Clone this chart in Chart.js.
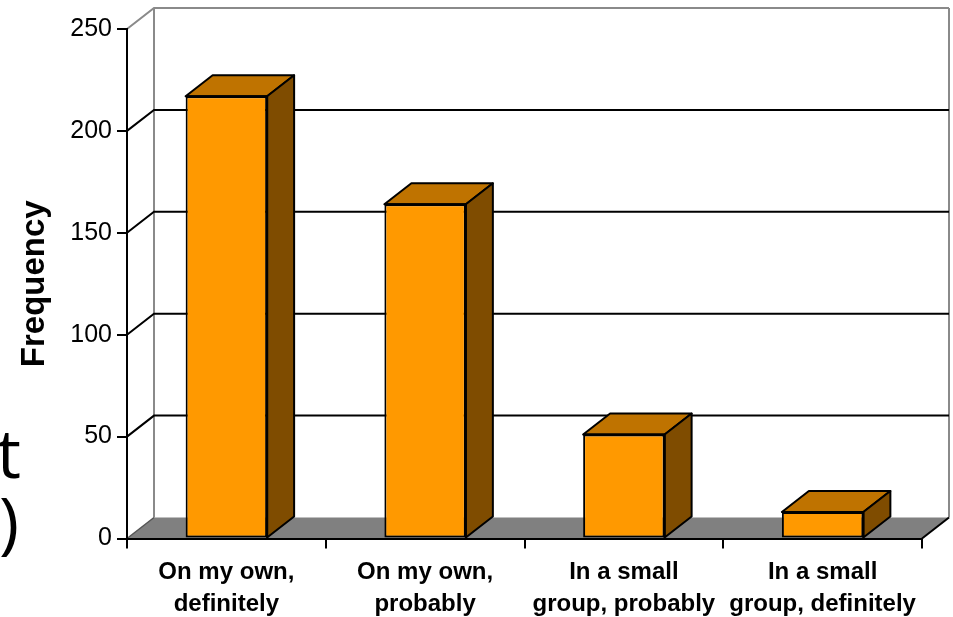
<!DOCTYPE html>
<html><head><meta charset="utf-8">
<script src="https://cdn.jsdelivr.net/npm/chart.js@4/dist/chart.umd.min.js"></script>
<style>html,body{margin:0;padding:0;background:#fff;overflow:hidden}</style>
</head><body>
<canvas id="c" width="953" height="617" style="display:block;width:953px;height:617px"></canvas>
<script>
const categories = [
  ['On my own,', 'definitely'],
  ['On my own,', 'probably'],
  ['In a small', 'group, probably'],
  ['In a small', 'group, definitely']
];
const frequencies = [217, 164, 51, 13];
const yTickValues = [0, 50, 100, 150, 200, 250];
const yTitle = 'Frequency';
const clippedSlideText = ['t', ')'];

const DX = 27, DY = -21;
const FRONT = '#FF9900', TOP = '#BF7300', SIDE = '#7F4C00';
const FONT = "'Liberation Sans', Arial, sans-serif";

function poly(ctx, pts, fill, stroke, lw) {
  ctx.beginPath();
  ctx.moveTo(pts[0][0], pts[0][1]);
  for (let i = 1; i < pts.length; i++) ctx.lineTo(pts[i][0], pts[i][1]);
  ctx.closePath();
  if (fill) { ctx.fillStyle = fill; ctx.fill(); }
  if (stroke) { ctx.strokeStyle = stroke; ctx.lineWidth = lw || 2; ctx.stroke(); }
}
function line(ctx, pts, color, lw) {
  ctx.beginPath();
  ctx.moveTo(pts[0][0], pts[0][1]);
  for (let i = 1; i < pts.length; i++) ctx.lineTo(pts[i][0], pts[i][1]);
  ctx.strokeStyle = color; ctx.lineWidth = lw || 2; ctx.stroke();
}

const walls = {
  id: 'walls',
  beforeDraw(chart) {
    const ctx = chart.ctx;
    const {left, right, bottom} = chart.chartArea;
    const ys = chart.scales.y;
    const maxV = yTickValues[yTickValues.length - 1];
    const topY = ys.getPixelForValue(maxV);
    ctx.save();
    poly(ctx, [[left, bottom], [right, bottom], [right + DX, bottom + DY], [left + DX, bottom + DY]], '#808080');
    line(ctx, [[left + DX, topY + DY], [left + DX, bottom + DY]], '#8a8a8a', 2);
    line(ctx, [[right + DX, topY + DY], [right + DX, bottom + DY]], '#8a8a8a', 2);
    yTickValues.forEach(v => {
      if (v === 0) return;
      const py = ys.getPixelForValue(v);
      const col = v === maxV ? '#8a8a8a' : '#000';
      line(ctx, [[left, py], [left + DX, py + DY], [right + DX, py + DY]], col, 2);
    });
    line(ctx, [[left, bottom], [left + DX, bottom + DY]], '#555', 1.5);
    line(ctx, [[right, bottom], [right + DX, bottom + DY]], '#000', 2);
    ctx.restore();
  },
  afterDatasetsDraw(chart) {
    const ctx = chart.ctx;
    const meta = chart.getDatasetMeta(0);
    ctx.save();
    ctx.lineJoin = 'round';
    meta.data.forEach(bar => {
      const {x, y, base, width} = bar.getProps(['x', 'y', 'base', 'width'], true);
      const l = x - width / 2, r = x + width / 2;
      poly(ctx, [[l, y], [l + DX, y + DY], [r + DX, y + DY], [r, y]], TOP, '#000', 2);
      poly(ctx, [[r, y], [r + DX, y + DY], [r + DX, base + DY], [r, base]], SIDE, '#000', 2);
      line(ctx, [[l, y], [r, y], [r, base]], '#000', 2);
    });
    ctx.restore();
  },
  afterDraw(chart) {
    const ctx = chart.ctx;
    ctx.save();
    ctx.fillStyle = '#000';
    ctx.textAlign = 'right';
    ctx.textBaseline = 'alphabetic';
    ctx.font = "68px 'Open Sans', sans-serif";
    ctx.fillText(clippedSlideText[0], 21, 478);
    ctx.fillText(clippedSlideText[1], 19, 546);
    ctx.restore();
  }
};

new Chart(document.getElementById('c'), {
  type: 'bar',
  data: {
    labels: categories,
    datasets: [{
      data: frequencies,
      backgroundColor: FRONT,
      borderColor: '#000',
      borderWidth: 2,
      borderSkipped: false,
      barPercentage: 0.41,
      categoryPercentage: 1
    }]
  },
  options: {
    responsive: false,
    devicePixelRatio: 1,
    animation: false,
    layout: {padding: {top: 29, right: 31, left: 0, bottom: 0}},
    plugins: {legend: {display: false}, tooltip: {enabled: false}},
    scales: {
      x: {
        grid: {display: true, drawOnChartArea: false, drawTicks: true, tickLength: 10, color: '#000', lineWidth: 2, offset: true},
        border: {display: true, color: '#000', width: 2},
        ticks: {
          color: '#000', autoSkip: false, maxRotation: 0, minRotation: 0, padding: 8,
          font: {family: FONT, weight: 'bold', size: 24, lineHeight: 1.33}
        },
        afterFit(s) { s.height = 617 - 538.5; }
      },
      y: {
        min: 0, max: 250,
        afterBuildTicks(s) { s.ticks = yTickValues.map(v => ({value: v})); },
        grid: {display: true, drawOnChartArea: false, drawTicks: true, tickLength: 10, color: '#000', lineWidth: 2},
        border: {display: true, color: '#000', width: 2},
        ticks: {color: '#000', padding: 5, font: {family: FONT, size: 25}},
        title: {
          display: true, text: yTitle, color: '#000',
          font: {family: FONT, weight: 'bold', size: 33, lineHeight: 1.2},
          padding: {top: 15, bottom: 0}
        },
        afterFit(s) { s.width = 127; }
      }
    }
  },
  plugins: [walls]
});
</script>
</body></html>
